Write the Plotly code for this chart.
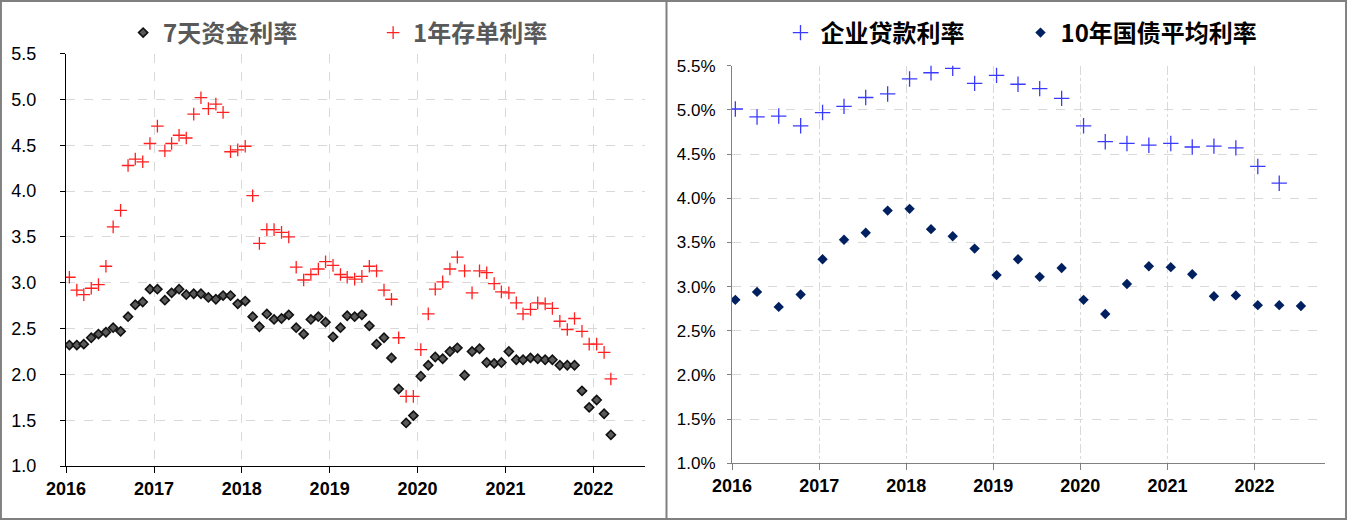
import pandas as pd
import plotly.graph_objects as go

# ---------------- data ----------------
months = pd.date_range("2016-01-01", periods=75, freq="MS") + pd.Timedelta(days=14)
quarters = pd.date_range("2016-01-01", periods=27, freq="QS") + pd.Timedelta(days=14)

rate_7d = [2.32, 2.32, 2.33, 2.40, 2.44, 2.46, 2.51, 2.47, 2.63, 2.76, 2.79, 2.93,
           2.93, 2.81, 2.89, 2.93, 2.87, 2.88, 2.88, 2.84, 2.82, 2.86, 2.86, 2.77,
           2.80, 2.63, 2.52, 2.66, 2.60, 2.61, 2.65, 2.51, 2.44, 2.60, 2.63, 2.57,
           2.41, 2.51, 2.64, 2.63, 2.65, 2.53, 2.33, 2.40, 2.18, 1.84, 1.47, 1.55,
           1.98, 2.10, 2.19, 2.17, 2.25, 2.29, 1.99, 2.25, 2.28, 2.13, 2.12, 2.13,
           2.25, 2.16, 2.16, 2.18, 2.17, 2.16, 2.16, 2.10, 2.10, 2.10, 1.82, 1.64,
           1.72, 1.57, 1.34]

rate_cd1y = [3.06, 2.92, 2.87, 2.94, 2.98, 3.18, 3.61, 3.79, 4.28, 4.35, 4.32, 4.52,
             4.71, 4.44, 4.52, 4.61, 4.58, 4.84, 5.02, 4.90, 4.95, 4.86, 4.43, 4.45,
             4.49, 3.95, 3.43, 3.58, 3.58, 3.55, 3.50, 3.17, 3.03, 3.09, 3.15, 3.23,
             3.19, 3.09, 3.06, 3.04, 3.07, 3.18, 3.13, 2.92, 2.82, 2.40, 1.76, 1.76,
             2.27, 2.66, 2.93, 3.01, 3.15, 3.28, 3.13, 2.89, 3.13, 3.11, 2.99, 2.90,
             2.89, 2.78, 2.66, 2.71, 2.78, 2.77, 2.72, 2.58, 2.49, 2.61, 2.47, 2.33,
             2.33, 2.24, 1.95]

loan_rate = [5.01, 4.92, 4.93, 4.82, 4.97, 5.04, 5.14, 5.18, 5.35, 5.42, 5.47, 5.30,
             5.39, 5.29, 5.24, 5.13, 4.82, 4.64, 4.62, 4.60, 4.62, 4.58, 4.59, 4.57,
             4.36, 4.17]

bond10y = [2.85, 2.94, 2.77, 2.91, 3.31, 3.53, 3.61, 3.86, 3.88, 3.65, 3.57, 3.43,
           3.13, 3.31, 3.11, 3.21, 2.85, 2.69, 3.03, 3.23, 3.22, 3.14, 2.89, 2.90,
           2.79, 2.79, 2.78]

year_ticks = ["2016", "2017", "2018", "2019", "2020", "2021", "2022"]
left_yticks = [1.0, 1.5, 2.0, 2.5, 3.0, 3.5, 4.0, 4.5, 5.0, 5.5]
right_yticks = [1.0, 1.5, 2.0, 2.5, 3.0, 3.5, 4.0, 4.5, 5.0, 5.5]

# ---------------- figure ----------------
W, H = 1347, 520
fig = go.Figure()

fig.add_trace(go.Scatter(
    x=months, y=rate_7d, mode="markers", name="7天资金利率",
    marker=dict(symbol="diamond", size=7, color="#5a5a5a",
                line=dict(color="#111111", width=1.6)),
    xaxis="x", yaxis="y", legend="legend"))
fig.add_trace(go.Scatter(
    x=months, y=rate_cd1y, mode="markers", name="1年存单利率",
    marker=dict(symbol="cross-thin", size=9, color="#ff0000",
                line=dict(color="#ff2020", width=1.3)),
    xaxis="x", yaxis="y", legend="legend"))

fig.add_trace(go.Scatter(
    x=quarters[:len(loan_rate)], y=loan_rate, mode="markers", name="企业贷款利率",
    marker=dict(symbol="cross-thin", size=11, color="#3333ff",
                line=dict(color="#3a3aff", width=1.3)),
    xaxis="x2", yaxis="y2", legend="legend2"))
fig.add_trace(go.Scatter(
    x=quarters, y=bond10y, mode="markers", name="10年国债平均利率",
    marker=dict(symbol="diamond", size=8, color="#002060"),
    xaxis="x2", yaxis="y2", legend="legend2"))

tick_font_y = dict(family="Liberation Sans, Arial", size=18, color="#000000")
tick_font_x = dict(family="Liberation Sans, Arial", size=18, color="#000000", weight="bold")
tickvals_x = [f"{y}-01-01" for y in year_ticks]

common_x = dict(type="date", tickvals=tickvals_x, ticktext=year_ticks,
                showgrid=True, gridwidth=1, gridcolor="#d9d9d9",
                showline=True, ticks="outside", ticklen=6, tickwidth=1,
                tickfont=tick_font_x, zeroline=False, automargin=False)

fig.update_layout(
    template="none",
    width=W, height=H,
    margin=dict(l=0, r=0, t=0, b=0, pad=0),
    paper_bgcolor="white", plot_bgcolor="white",
    showlegend=True,
    xaxis=dict(domain=[66 / W, 645 / W], range=["2016-01-01", "2022-08-04"],
               anchor="y", griddash="dash", linecolor="#000000", tickcolor="#000000",
               **common_x),
    yaxis=dict(domain=[1 - 466 / H, 1 - 53.7 / H], range=[1.0, 5.5], anchor="x",
               tickvals=left_yticks, ticktext=[f"{v:.1f}" for v in left_yticks],
               showgrid=True, gridcolor="#d9d9d9", griddash="dash",
               showline=True, linecolor="#000000", ticks="outside", ticklen=5,
               tickcolor="#000000", tickfont=tick_font_y, ticklabelstandoff=20,
               zeroline=False, automargin=False),
    xaxis2=dict(domain=[732 / W, 1325 / W], range=["2016-01-01", "2022-10-24"],
                anchor="y2", griddash="dashdot", linecolor="#808080", tickcolor="#808080",
                **common_x),
    yaxis2=dict(domain=[1 - 463.3 / H, 1 - 65.7 / H], range=[1.0, 5.5], anchor="x2",
                tickvals=right_yticks, ticktext=[f"{v:.1f}%" for v in right_yticks],
                showgrid=True, gridcolor="#d9d9d9", griddash="dash",
                showline=True, linecolor="#808080", ticks="outside", ticklen=4,
                tickcolor="#808080", tickfont=dict(tick_font_y, size=17),
                ticklabelstandoff=8, zeroline=False, automargin=False),
    legend=dict(orientation="h", x=0.277, xanchor="center", y=1 - 33 / H, yanchor="middle",
                bgcolor="rgba(0,0,0,0)", entrywidth=205, itemwidth=30,
                font=dict(family="Noto Sans CJK SC", size=24, color="#595959", weight="bold")),
    legend2=dict(orientation="h", x=0.7576, xanchor="center", y=1 - 33 / H, yanchor="middle",
                 bgcolor="rgba(0,0,0,0)", entrywidth=195, itemwidth=30,
                 font=dict(family="Noto Sans CJK SC", size=24, color="#000000", weight="bold")),
    shapes=[
        dict(type="rect", xref="paper", yref="paper", x0=0.0007, x1=0.9993, y0=0.002, y1=0.998,
             line=dict(color="#808080", width=2), fillcolor="rgba(0,0,0,0)", layer="above"),
        dict(type="line", xref="paper", yref="paper", x0=666.5 / W, x1=666.5 / W, y0=0, y1=1,
             line=dict(color="#808080", width=2), layer="above"),
    ],
)

fig.write_html("out.html", config={"displayModeBar": False},
               post_script="document.body.style.margin='0';document.body.style.overflow='hidden';")
